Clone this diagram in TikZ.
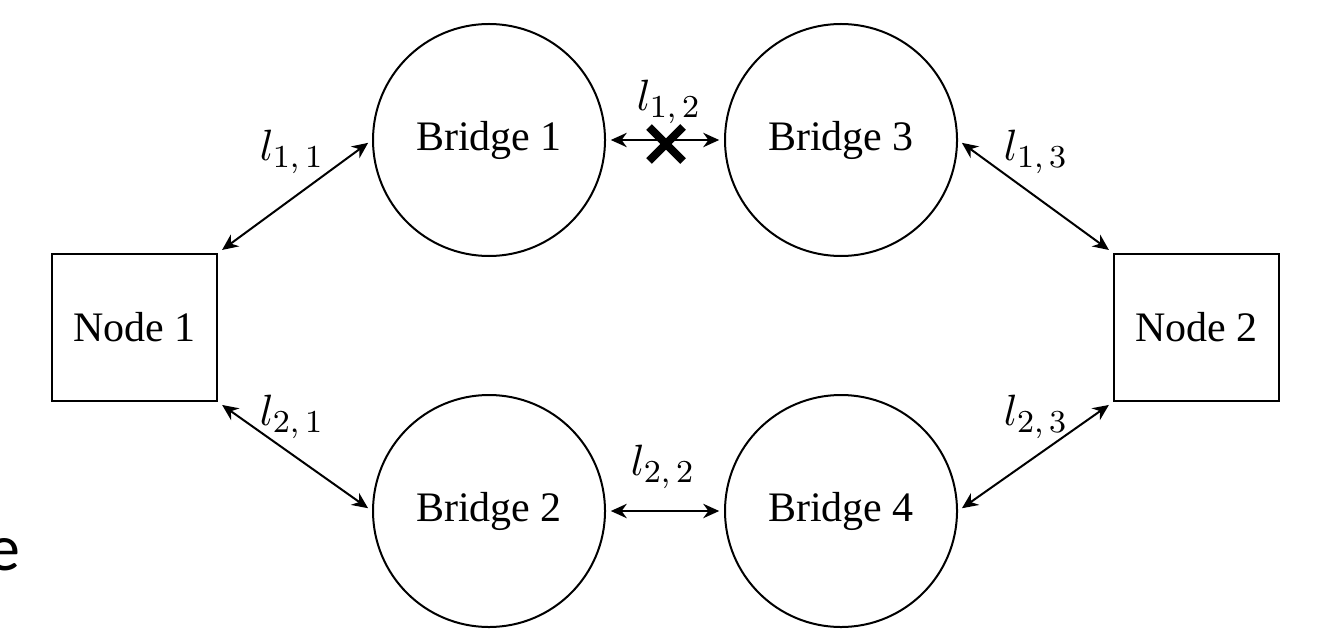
\documentclass[tikz,border=0pt]{standalone}
\usepackage{fontspec}
\setmainfont{Liberation Serif}
\newfontfamily\edgefont{Carlito}
\usetikzlibrary{arrows.meta}
\begin{document}
\begin{tikzpicture}[x=0.25pt,y=-0.25pt,
  every node/.style={font=\fontsize{10.5}{12}\selectfont},
  bridge/.style={draw,circle,line width=0.5pt,minimum size=58pt,inner sep=0pt},
  endnode/.style={draw,rectangle,line width=0.6pt,minimum width=41.25pt,minimum height=36.75pt,inner sep=0pt},
  link/.style={{Stealth[length=4pt,width=3.6pt]}-{Stealth[length=4pt,width=3.6pt]},line width=0.5pt,shorten <=1.2pt,shorten >=1.2pt},
  lab/.style={inner sep=0pt,font=\fontsize{10.8}{12}\selectfont},
  cross/.style={line width=2pt}]
\useasboundingbox (0,0) rectangle (1324,631);
\node[endnode] (n1) at (134.5,327.5) {Node 1};
\node[endnode] (n2) at (1196.5,327.5) {Node 2};
\node[bridge] (b1) at (489,140) {Bridge 1};
\node[bridge] (b3) at (841,140) {Bridge 3};
\node[bridge] (b2) at (489,511) {Bridge 2};
\node[bridge] (b4) at (841,511) {Bridge 4};
\draw[link] (n1.north east) -- (b1.west);
\draw[link] (b1.east) -- (b3.west);
\draw[link] (b3.east) -- (n2.north west);
\draw[link] (n1.south east) -- (b2.west);
\draw[link] (b2.east) -- (b4.west);
\draw[link] (b4.east) -- (n2.south west);
\node[lab] (t11) at (292,152) {$l_{1,\,1}$};
\node[lab] (t12) at (669,102) {$l_{1,\,2}$};
\node[lab] (t13) at (1036,152) {$l_{1,\,3}$};
\node[lab] (t21) at (292,417) {$l_{2,\,1}$};
\node[lab] (t22) at (663,467) {$l_{2,\,2}$};
\node[lab] (t23) at (1036,417) {$l_{2,\,3}$};
\coordinate (xa) at (649,127);
\coordinate (xb) at (683,161);
\coordinate (xc) at (683,127);
\coordinate (xd) at (649,161);
\draw[cross] (xa) -- (xb);
\draw[cross] (xc) -- (xd);
\node[anchor=base west,inner sep=0pt,font=\edgefont\fontsize{16.5}{18}\selectfont] (e) at (-13,570) {e};
\end{tikzpicture}
\end{document}
